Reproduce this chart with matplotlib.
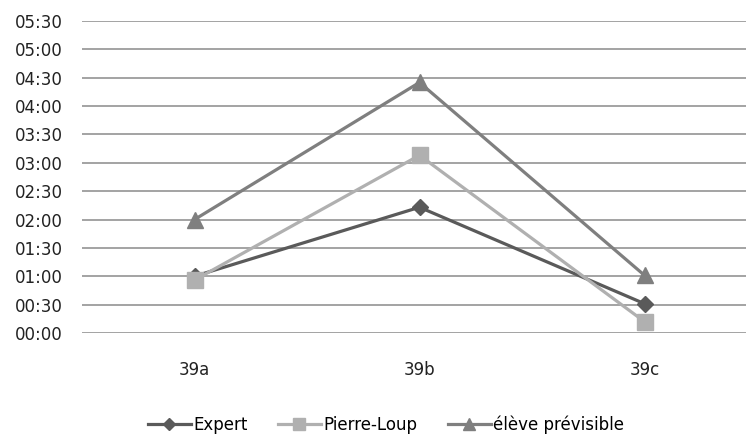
import matplotlib.pyplot as plt
from matplotlib.ticker import FuncFormatter, MultipleLocator

categories = ["39a", "39b", "39c"]
# durations in minutes
expert = [60, 133, 31]
pierre_loup = [56, 188, 12]
eleve = [120, 265, 61]

fig = plt.figure(figsize=(7.46, 4.34), dpi=100)
ax = fig.add_axes([82 / 746, 1 - 333 / 434, 675 / 746, 312 / 434])

x = range(len(categories))
ax.plot(x, expert, color="#5a5a5a", lw=2.3, marker="D", ms=8, label="Expert", zorder=3)
ax.plot(x, pierre_loup, color="#b0b0b0", lw=2.3, marker="s", ms=11, label="Pierre-Loup", zorder=3)
ax.plot(x, eleve, color="#7f7f7f", lw=2.3, marker="^", ms=11, label="élève prévisible", zorder=3)

ax.set_xlim(-0.5, 2.5)
ax.set_ylim(0, 330)
ax.yaxis.set_major_locator(MultipleLocator(30))
ax.yaxis.set_major_formatter(FuncFormatter(lambda v, p: "%02d:%02d" % (v // 60, v % 60)))
ax.set_xticks(list(x))
ax.set_xticklabels(categories)
ax.grid(axis="y", color="#8a8a8a", lw=1.1)
ax.set_axisbelow(True)
for s in ax.spines.values():
    s.set_visible(False)
ax.tick_params(length=0, labelsize=12, colors="#222222")
ax.tick_params(axis="y", pad=14)
ax.tick_params(axis="x", pad=20)

fig.legend(*ax.get_legend_handles_labels(), loc="center", bbox_to_anchor=(386 / 746, 1 - 425 / 434),
           ncol=3, frameon=False, fontsize=12, handlelength=2.6, columnspacing=1.8,
           handletextpad=0.15, markerscale=0.75)

fig.savefig("out.png", dpi=100)
